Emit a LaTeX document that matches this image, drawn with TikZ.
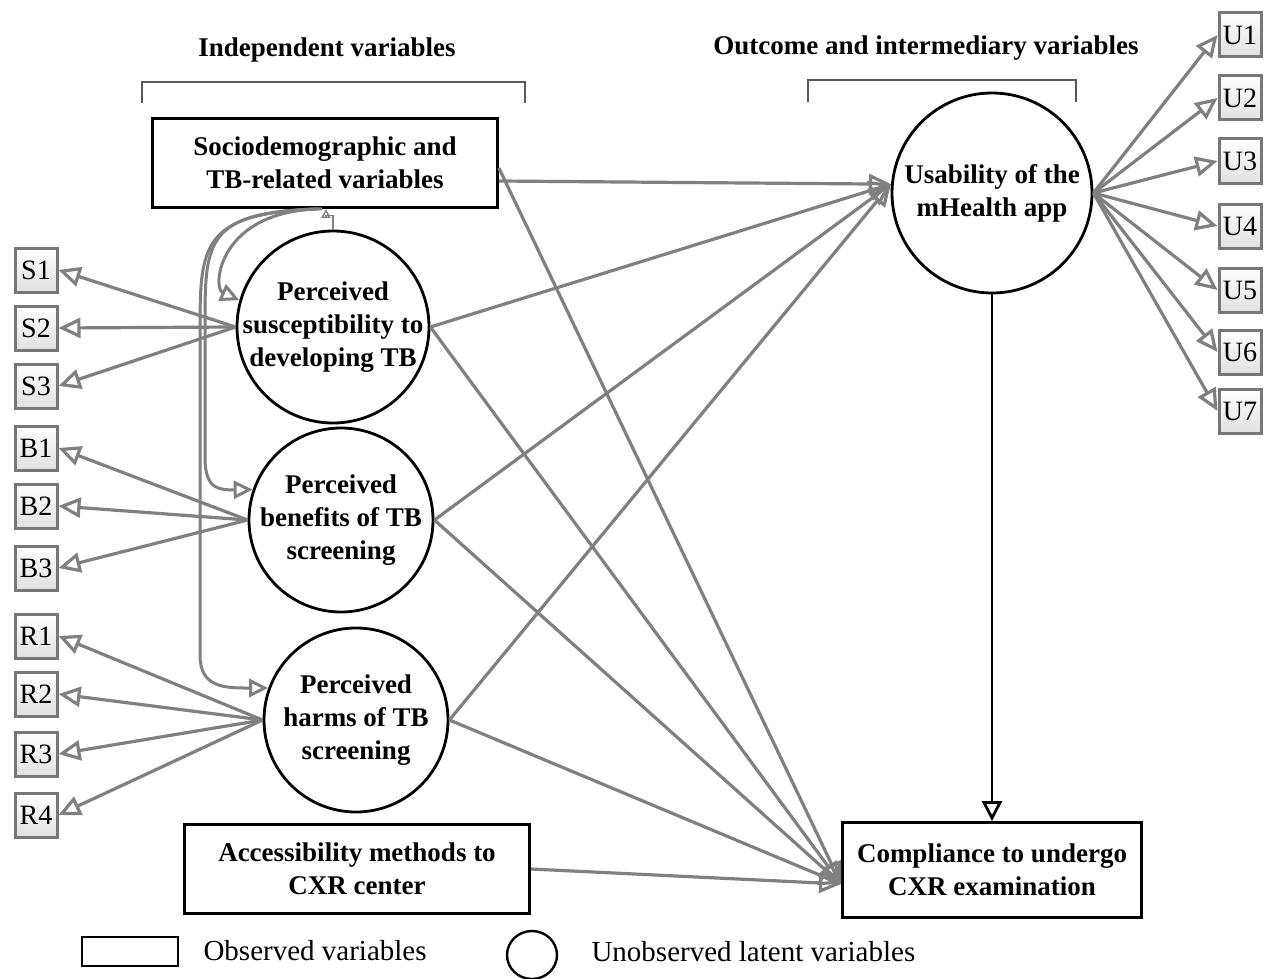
\documentclass[tikz,border=0pt]{standalone}
\usepackage{fontspec}
\setmainfont{Liberation Serif}
\usepackage{xcolor}
\usetikzlibrary{arrows.meta,positioning}
\definecolor{pathgray}{HTML}{808080}
\definecolor{boxgray}{HTML}{777777}

\begin{document}
\begin{tikzpicture}[x=1pt,y=-1pt,
	obs/.style={draw,line width=2.8pt,align=center,font=\bfseries\fontsize{27}{33}\selectfont,minimum width=345pt,minimum height=89pt},
	lat/.style={draw,circle,line width=2.8pt,align=center,font=\bfseries\fontsize{27}{33}\selectfont,inner sep=-22pt},
	ind/.style={draw=boxgray,line width=3pt,top color=white,bottom color=black!12,minimum width=42pt,minimum height=44pt,inner sep=0pt,font=\fontsize{28}{30}\selectfont},
	effect/.style={pathgray,line width=3.2pt,-{Triangle[open,length=22pt,width=20pt]}},
	covar/.style={pathgray,line width=3pt,-{Triangle[open,length=19pt,width=18pt]}},
	bracket/.style={black!65,line width=2.4pt},
	title/.style={font=\bfseries\fontsize{27}{33}\selectfont}]
	
	\useasboundingbox (0,0) rectangle (1266,979);
	
	\node[title] (indep) at (327,50) {Independent variables};
	\node[title] (outc) at (926,48) {Outcome and intermediary variables};
	\draw[bracket] (142,103) |- (525,82) -- (525,103);
	\draw[bracket] (808,102) |- (1076,80) -- (1076,102);
	
	\node[obs] (socio) at (325,163) {Sociodemographic and\\TB-related variables};
	\node[obs] (access) at (357,869) {Accessibility methods to\\CXR center};
	\node[obs,minimum width=299pt,minimum height=95pt] (comp) at (992,870) {Compliance to undergo\\CXR examination};
	
	\node[lat,minimum size=200pt] (usab) at (992,193) {Usability of the\\mHealth app};
	\node[lat,minimum size=192pt] (susc) at (333,327) {Perceived\\susceptibility to\\developing TB};
	\node[lat,minimum size=184pt] (ben) at (341,520) {Perceived\\benefits of TB\\screening};
	\node[lat,minimum size=184pt] (harm) at (356,720) {Perceived\\harms of TB\\screening};
	
	\foreach \n/\y in {1/270,2/328,3/386}
	\node[ind] (s\n) at (36,\y) {S\n};
	\foreach \n/\y in {1/448,2/506,3/568}
	\node[ind] (b\n) at (36,\y) {B\n};
	\foreach \n/\y in {1/636,2/694,3/754,4/815}
	\node[ind] (r\n) at (36,\y) {R\n};
	\foreach \n/\y in {1/35,2/98,3/161,4/226,5/290,6/352,7/411}
	\node[ind] (u\n) at (1240,\y) {U\n};
	
	% measurement part
	\foreach \n in {1,2,3} \draw[effect] (susc.west) -- (s\n.east);
	\foreach \n in {1,2,3} \draw[effect] (ben.west) -- (b\n.east);
	\foreach \n in {1,2,3,4} \draw[effect] (harm.west) -- (r\n.east);
	\foreach \n in {1,...,7} \draw[effect] (usab.east) -- (u\n.west);
	
	% structural part
	\coordinate (uin) at (usab.175);
	\coordinate (cin) at ([yshift=-14pt]comp.west);
	\draw[effect] ([yshift=-18pt]socio.east) -- (uin);
	\draw[effect] ([yshift=-5pt]socio.east) -- (cin);
	\foreach \v in {susc,ben,harm} {
		\draw[effect] (\v.east) -- (uin);
		\draw[effect] (\v.east) -- (cin);
	}
	\draw[effect] (access.east) -- (cin);
	\draw[line width=2.8pt,-{Triangle[open,length=20pt,width=20pt]}] (usab.south) -- (comp.north);
	
	\draw[covar] ([xshift=-3pt]socio.south) .. controls (218,210) and (212,288) .. (susc.164);
	\draw[covar] ([xshift=-6pt]socio.south) .. controls (208,212) and (205,240) .. (205,320) -- (205,458) .. controls (205,490) and (220,490) .. (ben.161);
	\draw[covar] ([xshift=-9pt]socio.south) .. controls (202,214) and (200,245) .. (200,330) -- (200,655) .. controls (200,688) and (225,688) .. (harm.160);
	\draw[pathgray,line width=1.4pt,-{Triangle[open,length=9pt,width=9pt]}] (susc.north) -- ++(0,-14) -| ([xshift=1pt]socio.south);
	
	\draw[line width=2.8pt] (82,937) rectangle (178,966);
	\node[right,font=\fontsize{29}{33}\selectfont] (obslbl) at (200,951) {Observed variables};
	\draw[line width=2.4pt] (532,955) ellipse (25 and 24);
	\node[right,font=\fontsize{29}{33}\selectfont] (latlbl) at (588,952) {Unobserved latent variables};
	
\end{tikzpicture}
\end{document}
